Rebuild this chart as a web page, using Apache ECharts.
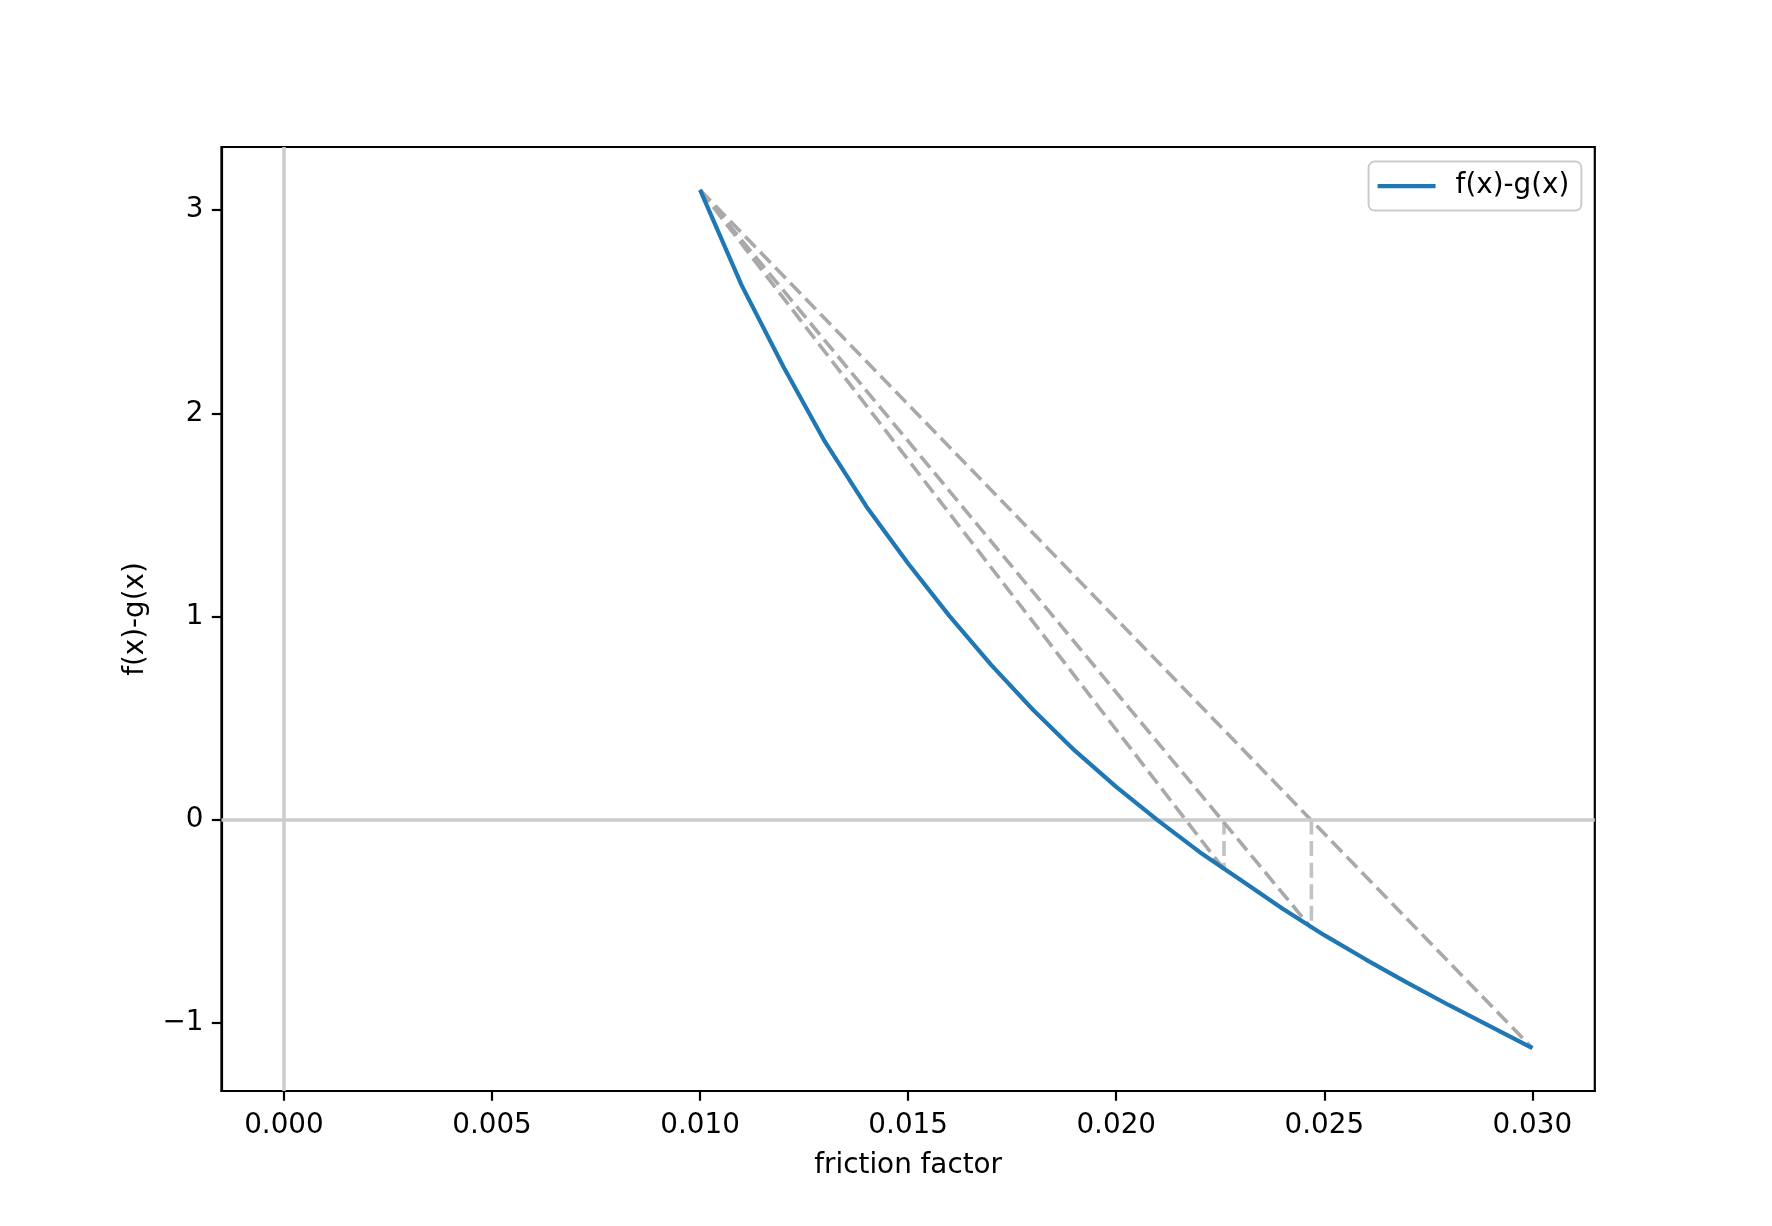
<!DOCTYPE html>
<html>
<head>
<meta charset="utf-8">
<script src="https://cdn.jsdelivr.net/npm/echarts@6.0.0/dist/echarts.min.js"></script>
<style>
  html, body { margin: 0; padding: 0; background: #fff; }
  #chart { width: 1772px; height: 1226px; }
</style>
</head>
<body>
<div id="chart"></div>
<script>
// curve f(x)-g(x)
const xValues = [0.010, 0.011, 0.012, 0.013, 0.014, 0.015, 0.016, 0.017, 0.018, 0.019, 0.020,
  0.021, 0.022, 0.023, 0.024, 0.025, 0.026, 0.027, 0.028, 0.029, 0.030];
const yValues = [3.10, 2.63, 2.23, 1.86, 1.54, 1.26, 1.00, 0.76, 0.54, 0.34, 0.16,
  -0.005, -0.16, -0.30, -0.44, -0.57, -0.69, -0.805, -0.915, -1.02, -1.126];

// secant lines all start at the left point and end on the curve
const secantStartX = [0.010];
const secantStartY = [3.10];
const secantEndX = [0.030, 0.02469, 0.02259];
const secantEndY = [-1.126, -0.535, -0.247];

const xTicks = [0, 0.005, 0.010, 0.015, 0.020, 0.025, 0.030];
const yTicks = [-1, 0, 1, 2, 3];

const FONT = "DejaVu Sans";
const FS = 27.8;

const chart = echarts.init(document.getElementById("chart"));

// matplotlib style 5% margins
const yMin = Math.min(...yValues), yMax = Math.max(...yValues);
const yPad = (yMax - yMin) * 0.05;
const xPad = (0.030 - 0) * 0.05;

const curve = xValues.map((x, i) => [x, yValues[i]]);

let series = [
  {
    name: "zero",
    type: "line",
    data: [],
    silent: true,
    z: 1,
    markLine: {
      silent: true,
      symbol: "none",
      label: { show: false },
      lineStyle: { color: "#cccccc", width: 3.5, type: "solid" },
      data: [{ yAxis: 0 }, { xAxis: 0 }],
    },
  },
  {
    name: "f(x)-g(x)",
    type: "line",
    data: curve,
    symbol: "none",
    showSymbol: false,
    z: 5,
    lineStyle: { color: "#1f77b4", width: 4.2 },
    itemStyle: { color: "#1f77b4" },
  },
];

secantEndX.forEach((ex, i) => {
  series.push({
    name: "secant" + i,
    type: "line",
    data: [[secantStartX[0], secantStartY[0]], [ex, secantEndY[i]]],
    symbol: "none",
    z: 4,
    lineStyle: { color: "#a9a9a9", width: 3.6, type: [15, 6.6] },
  });
  if (i > 0) {
    series.push({
      name: "drop" + i,
      type: "line",
      data: [[ex, 0], [ex, secantEndY[i]]],
      symbol: "none",
      z: 3,
      lineStyle: { color: "#c2c2c2", width: 3.6, type: [15, 6.6] },
    });
  }
});

const option = {
  animation: false,
  backgroundColor: "#fff",
  grid: {
    left: 221.5,
    right: 177.2,
    top: 147,
    bottom: 135,
    containLabel: false,
    show: true,
    borderColor: "#000",
    borderWidth: 2.2,
  },
  legend: {
    data: [{ name: "f(x)-g(x)", icon: "rect" }],
    left: 1368.6,
    top: 161.6,
    orient: "horizontal",
    padding: [10, 12, 10, 9],
    itemWidth: 58,
    itemHeight: 4.2,
    backgroundColor: "#fff",
    borderColor: "#cccccc",
    borderWidth: 2,
    borderRadius: 6,
    textStyle: {
      fontFamily: FONT, fontSize: FS, color: "#000",
      padding: [0, 0, 0, 15], lineHeight: 29,
    },
  },
  xAxis: {
    type: "value",
    min: 0 - xPad,
    max: 0.030 + xPad,
    name: "friction factor",
    nameLocation: "middle",
    nameGap: 61,
    nameTextStyle: { fontFamily: FONT, fontSize: FS, color: "#000" },
    axisLine: { show: true, onZero: false, lineStyle: { color: "#000", width: 2.2 } },
    axisTick: {
      show: true,
      customValues: xTicks,
      length: 9.7,
      lineStyle: { color: "#000", width: 2.2 },
    },
    axisLabel: {
      customValues: xTicks,
      fontFamily: FONT,
      fontSize: FS,
      color: "#000",
      margin: 21,
      formatter: (v) => v.toFixed(3),
    },
    splitLine: { show: false },
  },
  yAxis: {
    type: "value",
    min: yMin - yPad,
    max: yMax + yPad,
    name: "f(x)-g(x)",
    nameLocation: "middle",
    nameGap: 72,
    nameTextStyle: { fontFamily: FONT, fontSize: FS, color: "#000" },
    axisLine: { show: true, onZero: false, lineStyle: { color: "#000", width: 2.2 } },
    axisTick: {
      show: true,
      customValues: yTicks,
      length: 9.7,
      lineStyle: { color: "#000", width: 2.2 },
    },
    axisLabel: {
      customValues: yTicks,
      fontFamily: FONT,
      fontSize: FS,
      color: "#000",
      margin: 18,
      formatter: (v) => (v < 0 ? "\u2212" + Math.abs(v) : String(v)),
    },
    splitLine: { show: false },
  },
  series: series,
};

chart.setOption(option);
</script>
</body>
</html>
